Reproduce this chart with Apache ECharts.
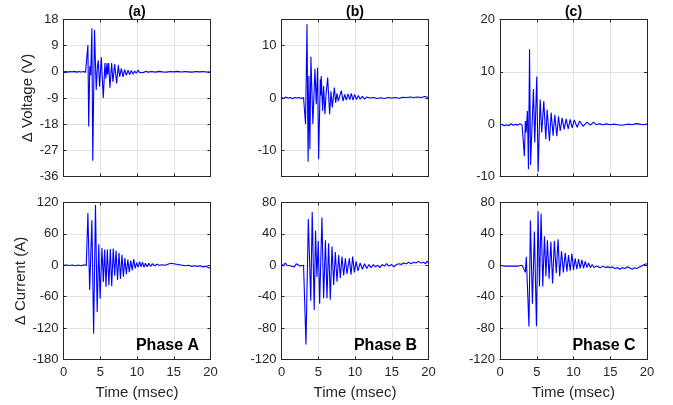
<!DOCTYPE html>
<html>
<head>
<meta charset="utf-8">
<script src="https://cdn.jsdelivr.net/npm/echarts@6/dist/echarts.min.js"></script>
<style>
  html, body { margin: 0; padding: 0; background: #fff; }
  #chart { width: 673px; height: 405px; }
</style>
</head>
<body>
<div id="chart"></div>
<script>
// ---------------- DATA ----------------
const timeTicks = [0, 5, 10, 15, 20];
const panelTitles = ['(a)', '(b)', '(c)'];
const phaseLabels = ['Phase A', 'Phase B', 'Phase C'];

// Phase A voltage (V)
const timeVA = [0,0.3,0.6,0.9,1.2,1.5,1.8,2.1,2.4,2.7,3.0,3.2,
  3.32,3.43,3.58,3.70,3.86,3.98,4.22,4.45,4.62,4.73,4.91,5.14,5.41,5.64,5.77,5.91,6.0,6.14,6.32,6.55,6.73,6.96,7.23,7.46,7.64,7.87,8.1,8.32,8.55,8.78,9.0,9.23,9.46,9.69,9.9,10.14,10.4,10.65,10.9,11.2,11.5,
  12,12.5,13,13.5,14,14.5,15,15.5,16,16.5,17,17.5,18,18.5,19,19.5,20];
const voltA = [0,0.1,-0.1,0.1,0,0.15,-0.1,0.1,-0.05,0.1,-0.1,0.1,
  9.2,-18.8,2.0,-1.2,15.0,-30.6,14.4,-6.2,2.0,4.0,-5.0,5.0,-9.0,3.0,-2.3,3.0,-1.0,3.0,-5.5,3.0,-3.5,2.7,-4.0,2.3,-1.7,1.2,-1.7,0.8,-1.2,0.6,-1.0,0.5,-0.8,0.3,-0.5,0.6,-0.3,0.3,-0.2,0.2,-0.1,
  0.1,-0.1,0.15,0,-0.1,0.1,0,0.15,-0.05,0.1,0,-0.1,0.1,0,0.1,-0.05,0];

// Phase B voltage (V)
const timeVB = [0,0.3,0.6,0.9,1.2,1.5,1.8,2.1,2.4,2.7,3.0,3.15,
  3.27,3.47,3.62,3.73,3.86,4.0,4.27,4.55,4.73,4.91,5.05,5.28,5.34,5.41,5.6,5.73,5.91,6.05,6.28,6.55,6.73,6.91,7.19,7.37,7.55,7.73,7.95,8.14,8.37,8.6,8.82,9.05,9.28,9.5,9.72,9.95,10.2,10.45,10.7,11.0,11.3,11.6,
  12,12.5,13,13.5,14,14.5,15,15.5,16,16.5,17,17.5,18,18.5,19,19.5,20];
const voltB = [0.1,-0.1,0.2,0,0.1,-0.15,0.1,0,0.1,-0.1,0.1,-0.2,
  -5.0,14.1,-12.2,4.2,-9.8,7.9,-5.0,5.6,-1.2,5.8,-11.7,3.6,0.5,4.2,-2.5,2.3,-3.1,0.5,3.9,-3.1,1.3,-1.8,2.0,-0.9,0.9,-0.6,0.5,1.4,-0.6,0.7,-0.4,0.8,-0.3,0.9,-0.4,0.7,-0.3,0.5,-0.2,0.3,-0.2,0.2,
  0,0.1,-0.1,0.05,-0.1,0.1,0,0.1,-0.05,0.15,0.1,0.2,0.1,0.2,0.1,0.3,0.1];

// Phase C voltage (V)
const timeVC = [0,0.3,0.6,0.9,1.2,1.5,1.8,2.1,2.4,2.7,3.0,3.15,
  3.32,3.45,3.55,3.73,3.87,4.02,4.16,4.55,4.73,5.0,5.19,5.46,5.68,5.96,6.23,6.41,6.73,6.96,7.23,7.46,7.73,7.96,8.19,8.46,8.73,9.0,9.28,9.55,9.82,10.1,10.5,10.84,11.3,11.83,
  12.3,12.7,13.1,13.5,14,14.5,15,15.5,16,16.5,17,17.5,18,18.5,19,19.5,20];
const voltC = [0,-0.1,-0.3,-0.1,-0.3,0.1,-0.2,0,-0.2,0.1,-0.2,0,
  -6.1,0.6,-1.6,2.5,-8.6,14.3,-7.8,6.7,-3.5,9.1,-9.1,4.7,-1.6,4.4,-2.9,2.8,-3.2,2.2,-2.2,1.8,-2.3,1.5,-1.3,1.2,-1.0,1.0,-0.9,0.9,-0.7,0.8,-0.6,0.6,-0.4,0.4,
  -0.2,0.4,-0.1,0.1,-0.1,0.05,-0.1,0,-0.1,-0.2,-0.1,0,-0.1,0.1,0,-0.1,0];

// Phase A current (A)
const timeIA = [0,0.4,0.8,1.2,1.6,2.0,2.4,2.8,3.1,3.22,
  3.32,3.56,3.86,4.1,4.35,4.58,4.8,4.98,5.23,5.42,5.6,5.78,5.96,6.18,6.37,6.56,6.77,6.96,7.15,7.35,7.55,7.75,7.95,8.15,8.35,8.55,8.75,8.95,9.15,9.35,9.55,9.75,9.95,10.15,10.35,10.55,10.75,10.95,11.15,11.4,11.6,11.85,12.1,12.4,12.7,
  13,13.4,13.8,14.2,14.6,15,15.4,15.8,16.2,16.6,17,17.4,17.8,18.2,18.6,19,19.4,19.8,20];
const currA = [0,0.5,-0.5,0.5,-1,0.5,-1,1,-0.5,0,
  100,-47,86,-131,115,-89,40,-64,33,-32,30,-41,30,-38,31,-40,32,-20,28,-28,24,-26,20,-22,14,-17,11,-13,9,-10,12,-6,5,-4,7,-3,6,-4,4,-3,4,-2,3,-1,2,
  0,1,0,2,4,3,2,1,0,-1,0,-2,-1,-2,-1,-3,-2,-5,-4];

// Phase B current (A)
const timeIB = [0,0.25,0.5,0.75,1.0,1.25,1.5,1.75,2.0,2.25,2.5,2.75,3.0,3.15,
  3.33,3.65,3.98,4.18,4.45,4.63,4.82,5.0,5.19,5.5,5.73,5.98,6.19,6.41,6.64,6.87,7.1,7.32,7.55,7.78,8.0,8.23,8.46,8.69,8.91,9.23,9.46,9.68,9.91,10.15,10.4,10.7,11.0,11.3,11.6,11.9,12.2,12.5,12.8,13.1,13.4,13.7,
  14,14.3,14.6,15,15.3,15.6,16,16.3,16.6,17,17.3,17.6,18,18.3,18.6,19,19.3,19.6,19.8,20];
const currB = [2,-1,3,0,1,-1,1,-2,2,0,-1,-3,0,-1,
  -101,59,-45,68,-57,44,-15,31,-49,61,-42,32,-42,28,-44,24,-25,17,-21,13,-16,11,-13,9,-11,9,-12,11,-9,5,-7,3,-5,2,-4,1,-3,1,-2,0,-3,1,
  -1,2,-1,1,-2,1,2,1,3,2,4,2,4,3,5,3,4,2,5,3];

// Phase C current (A)
const timeIC = [0,0.25,0.5,0.75,1.0,1.25,1.5,1.75,2.0,2.25,2.5,2.75,3.0,3.25,3.45,
  3.58,3.94,4.14,4.41,4.68,4.96,5.18,5.37,5.59,5.82,6.05,6.25,6.45,6.68,6.92,7.15,7.4,7.65,7.9,8.12,8.37,8.62,8.87,9.1,9.32,9.55,9.78,10.0,10.23,10.45,10.69,10.9,11.14,11.37,11.6,11.83,12.05,12.3,12.55,12.8,13.1,13.4,13.7,
  14,14.3,14.6,15,15.3,15.6,16,16.3,16.6,17,17.3,17.6,18,18.3,18.6,19,19.3,19.6,20];
const currC = [0,1,-1,1,-1,-2,-1,-3,-1,-2,-1,-2,0,-1,-9,
  11,-78,57,-49,43,-77.5,69,-27,66,-27,37,-14,32,-17,30,-23,31,-10,33,-14,18,-9,16,-8,13,-7,15,-6,9,-5,8,-4,7,-4,5,-3,3,-3,1,-3,-1,-2,-3,
  -1,-3,-2,-3,-2,-4,-3,-5,-3,-4,-2,-3,-5,-3,-4,-2,-1,1,2];

// y-axis tick values
const voltATicks = [-36, -27, -18, -9, 0, 9, 18];
const voltBTicks = [-10, 0, 10];
const voltCTicks = [-10, 0, 10, 20];
const currATicks = [-180, -120, -60, 0, 60, 120];
const currBTicks = [-120, -80, -40, 0, 40, 80];
const currCTicks = [-120, -80, -40, 0, 40, 80];

// ---------------- CHART ----------------
const FONT = 'Liberation Sans, Arial, Helvetica, sans-serif';
const AXIS_COLOR = '#262626';
const GRID_COLOR = '#e2e2e2';
const W = 147, H = 157;
const lefts = [63.5, 281.5, 500];
const tops = [19.5, 202.5];

const panels = [
  { t: timeVA, v: voltA, ticks: voltATicks, min: -36, max: 18, name: 'Δ Voltage (V)', gap: 24 },
  { t: timeVB, v: voltB, ticks: voltBTicks, min: -15, max: 15 },
  { t: timeVC, v: voltC, ticks: voltCTicks, min: -10, max: 20 },
  { t: timeIA, v: currA, ticks: currATicks, min: -180, max: 120, name: 'Δ Current (A)', gap: 30 },
  { t: timeIB, v: currB, ticks: currBTicks, min: -120, max: 80 },
  { t: timeIC, v: currC, ticks: currCTicks, min: -120, max: 80 }
];

const grid = [], xAxis = [], yAxis = [], series = [];
panels.forEach((p, i) => {
  const row = Math.floor(i / 3), col = i % 3;
  grid.push({ left: lefts[col], top: tops[row], width: W, height: H, containLabel: false });
  const tickStyle = { inside: true, length: 3, lineStyle: { color: AXIS_COLOR, width: 1 } };
  const lineStyle = { show: true, onZero: false, lineStyle: { color: AXIS_COLOR, width: 1 } };
  xAxis.push({
    type: 'value', gridIndex: i, position: 'bottom', min: 0, max: 20,
    axisLine: lineStyle,
    axisTick: Object.assign({ customValues: timeTicks }, tickStyle),
    axisLabel: { show: row === 1, customValues: timeTicks, color: AXIS_COLOR, fontSize: 13, fontFamily: FONT, margin: 6 },
    splitLine: { show: true, lineStyle: { color: GRID_COLOR, width: 1 } },
    name: row === 1 ? 'Time (msec)' : '', nameLocation: 'middle', nameGap: 26,
    nameTextStyle: { color: AXIS_COLOR, fontSize: 15, fontFamily: FONT }
  });
  xAxis.push({
    type: 'value', gridIndex: i, position: 'top', min: 0, max: 20,
    axisLine: lineStyle,
    axisTick: Object.assign({ customValues: timeTicks }, tickStyle),
    axisLabel: { show: false, customValues: timeTicks },
    splitLine: { show: false }
  });
  yAxis.push({
    type: 'value', gridIndex: i, position: 'left', min: p.min, max: p.max,
    axisLine: lineStyle,
    axisTick: Object.assign({ customValues: p.ticks }, tickStyle),
    axisLabel: { customValues: p.ticks, color: AXIS_COLOR, fontSize: 13, fontFamily: FONT, margin: 5 },
    splitLine: { show: true, lineStyle: { color: GRID_COLOR, width: 1 } },
    name: p.name || '', nameLocation: 'middle', nameGap: p.gap || 30,
    nameTextStyle: { color: AXIS_COLOR, fontSize: 15, fontFamily: FONT }
  });
  yAxis.push({
    type: 'value', gridIndex: i, position: 'right', min: p.min, max: p.max,
    axisLine: lineStyle,
    axisTick: Object.assign({ customValues: p.ticks }, tickStyle),
    axisLabel: { show: false, customValues: p.ticks },
    splitLine: { show: false }
  });
  series.push({
    type: 'line', xAxisIndex: 2 * i, yAxisIndex: 2 * i,
    data: p.t.map((t, k) => [t, p.v[k]]),
    showSymbol: false, symbol: 'none', animation: false,
    lineStyle: { color: '#0000ff', width: 1.1 },
    z: 3
  });
});

const graphic = [];
panelTitles.forEach((txt, c) => {
  graphic.push({ type: 'text', x: lefts[c] + W / 2, y: 12.5, z: 10,
    style: { text: txt, font: 'bold 14px ' + FONT, fill: '#000', textAlign: 'center', textVerticalAlign: 'middle' } });
});
phaseLabels.forEach((txt, c) => {
  graphic.push({ type: 'text', x: lefts[c] + W - 43, y: 345.5, z: 10,
    style: { text: txt, font: 'bold 16px ' + FONT, fill: '#000', textAlign: 'center', textVerticalAlign: 'middle' } });
});

const chart = echarts.init(document.getElementById('chart'), null, { renderer: 'canvas' });
chart.setOption({
  animation: false,
  backgroundColor: '#fff',
  grid, xAxis, yAxis, series, graphic
});
</script>
</body>
</html>
